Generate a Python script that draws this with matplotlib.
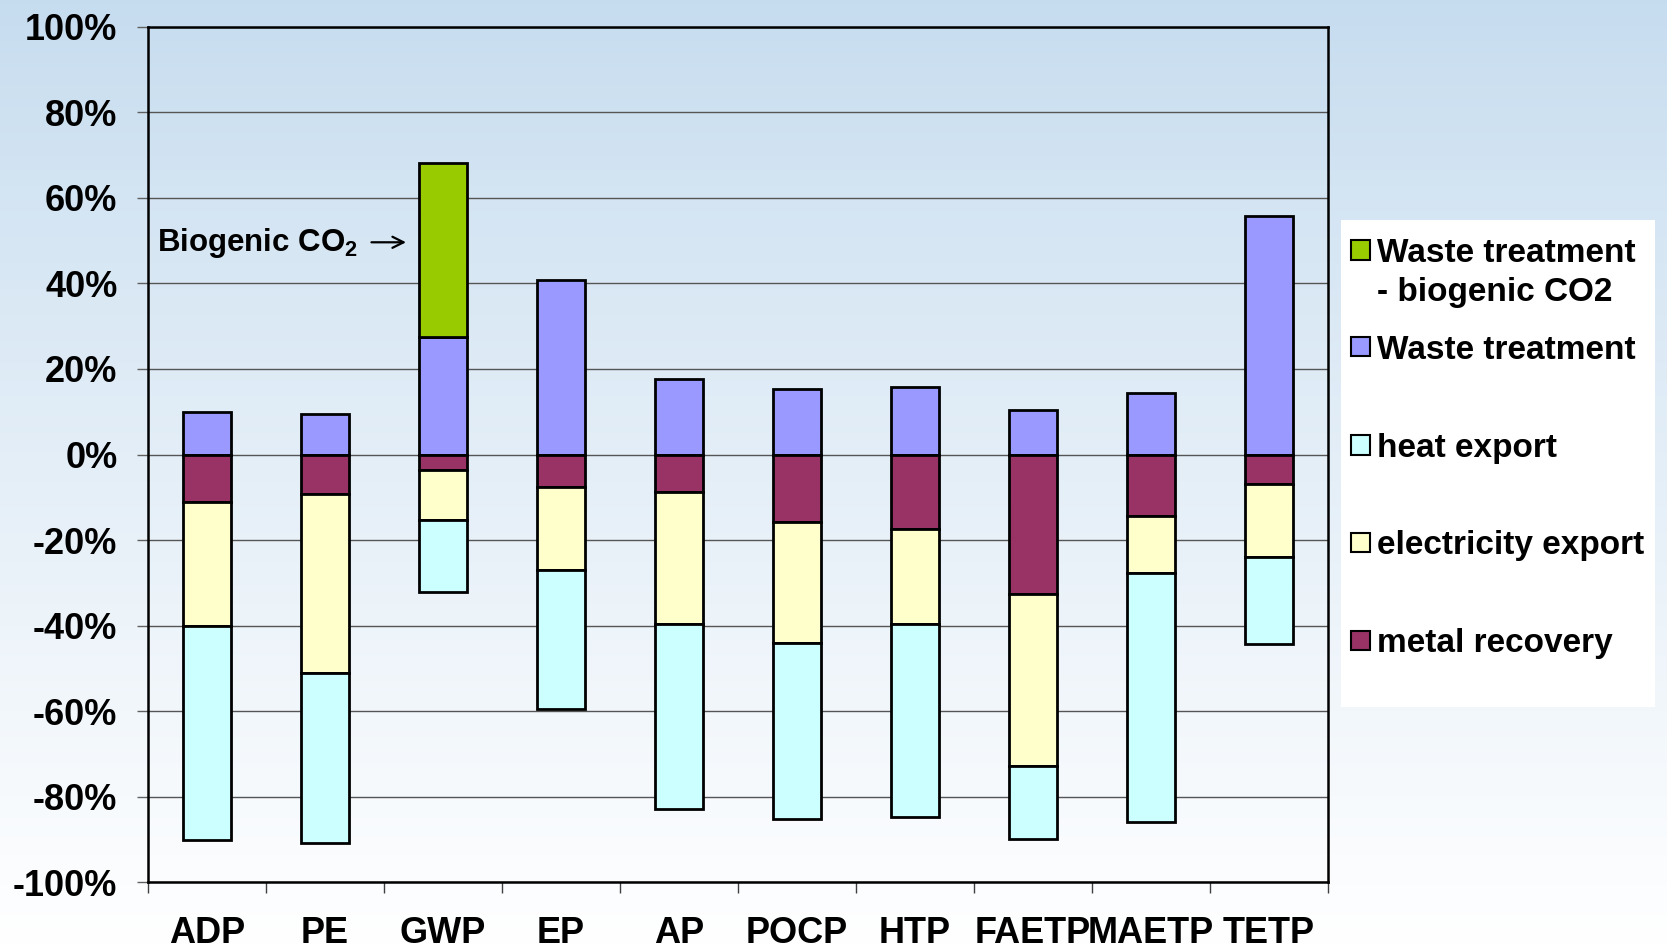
import matplotlib

matplotlib.use("Agg")

import matplotlib.pyplot as plt
import numpy as np
from matplotlib.patches import Rectangle

plt.rcParams["font.family"] = ["Liberation Sans", "DejaVu Sans"]
plt.rcParams["font.weight"] = "bold"
plt.rcParams["mathtext.fontset"] = "custom"
plt.rcParams["mathtext.rm"] = "Liberation Sans:bold"
plt.rcParams["mathtext.bf"] = "Liberation Sans:bold"

categories = ["ADP", "PE", "GWP", "EP", "AP", "POCP", "HTP", "FAETP", "MAETP", "TETP"]
waste_treatment = [10.0, 9.5, 27.4, 40.8, 17.7, 15.2, 15.7, 10.4, 14.4, 55.7]
biogenic_co2 = [0, 0, 40.8, 0, 0, 0, 0, 0, 0, 0]
metal_recovery = [-11.0, -9.2, -3.7, -7.5, -8.7, -15.7, -17.4, -32.5, -14.3, -7.0]
electricity_export = [-29.0, -41.8, -11.5, -19.6, -30.9, -28.3, -22.2, -40.3, -13.4, -16.9]
heat_export = [-50.0, -39.8, -16.9, -32.4, -43.2, -41.1, -45.2, -17.0, -58.1, -20.4]

y_ticks = [-100, -80, -60, -40, -20, 0, 20, 40, 60, 80, 100]
y_tick_labels = ["-100%", "-80%", "-60%", "-40%", "-20%", "0%", "20%", "40%", "60%", "80%", "100%"]

legend_labels = ["Waste treatment\n- biogenic CO2", "Waste treatment", "heat export",
                 "electricity export", "metal recovery"]
legend_colors = ["#99cc00", "#9999ff", "#ccffff", "#ffffcc", "#993366"]

fig = plt.figure(figsize=(16.67, 9.48), dpi=100)

# background gradient, light blue at top fading to white
bg = fig.add_axes([0, 0, 1, 1], zorder=-10)
t = np.linspace(0, 1, 256) ** 0.9
top = np.array([0.776, 0.863, 0.937])
grad = top[None, :] * (1 - t[:, None]) + np.ones(3)[None, :] * t[:, None]
bg.imshow(grad[:, None, :], aspect="auto", extent=[0, 1, 0, 1], origin="upper")
bg.axis("off")

ax = fig.add_axes([0.0888, 0.0692, 0.7078, 0.9027])
ax.patch.set_alpha(0)
x = np.arange(len(categories))
width = 0.4
edge = dict(edgecolor="black", linewidth=2.0, zorder=3)

ax.bar(x, waste_treatment, width, color="#9999ff", **edge)
gwp = np.array(biogenic_co2) > 0
ax.bar(x[gwp], np.array(biogenic_co2)[gwp], width, bottom=np.array(waste_treatment)[gwp], color="#99cc00", **edge)
ax.bar(x, metal_recovery, width, color="#993366", **edge)
ax.bar(x, electricity_export, width, bottom=metal_recovery, color="#ffffcc", **edge)
ax.bar(x, heat_export, width, bottom=np.array(metal_recovery) + np.array(electricity_export), color="#ccffff", **edge)

ax.set_xlim(-0.5, len(categories) - 0.5)
ax.set_ylim(-100, 100)
ax.set_yticks(y_ticks)
ax.set_yticklabels(y_tick_labels, fontsize=26, fontweight="bold")
ax.set_xticks(x)
ax.set_xticklabels(categories, fontsize=26, fontweight="bold")
ax.set_xticks(np.arange(-0.5, len(categories)), minor=True)
ax.tick_params(axis="x", which="major", length=0, pad=24)
ax.tick_params(axis="x", which="minor", length=8, width=1.0, color="#404040")
ax.tick_params(axis="y", length=8, width=1.0, color="#606060", pad=14)
ax.grid(True, axis="y", color="#555555", linewidth=1.0)
ax.set_axisbelow(True)
for spine in ax.spines.values():
    spine.set_linewidth(1.8)
    spine.set_color("black")

ax.text(-0.42, 49.4, r"Biogenic CO$_\mathbf{2}$", fontsize=22.5, fontweight="bold", va="center", ha="left")
ax.annotate("", xy=(1.71, 49.6), xytext=(1.37, 49.6),
            arrowprops=dict(arrowstyle="->", color="black", lw=1.6, mutation_scale=20))

# legend drawn as a white panel with square swatches
W, H = 1667, 948
fig.patches.append(Rectangle((1341 / W, 1 - 707 / H), (1655 - 1341) / W, (707 - 220) / H,
                             transform=fig.transFigure, facecolor="white", edgecolor="none", zorder=5))
row_y = [250, 347, 445, 542, 640]
for label, color, yy in zip(legend_labels, legend_colors, row_y):
    fig.patches.append(Rectangle((1351 / W, 1 - (yy + 9.5) / H), 19 / W, 19 / H,
                                 transform=fig.transFigure, facecolor=color, edgecolor="black",
                                 linewidth=1.5, zorder=6))
    for i, line in enumerate(label.split("\n")):
        fig.text(1377 / W, 1 - (yy + 12 + i * 39) / H, line, fontsize=24, fontweight="bold",
                 va="baseline", ha="left", zorder=7)

fig.savefig("out.png", dpi=100)
